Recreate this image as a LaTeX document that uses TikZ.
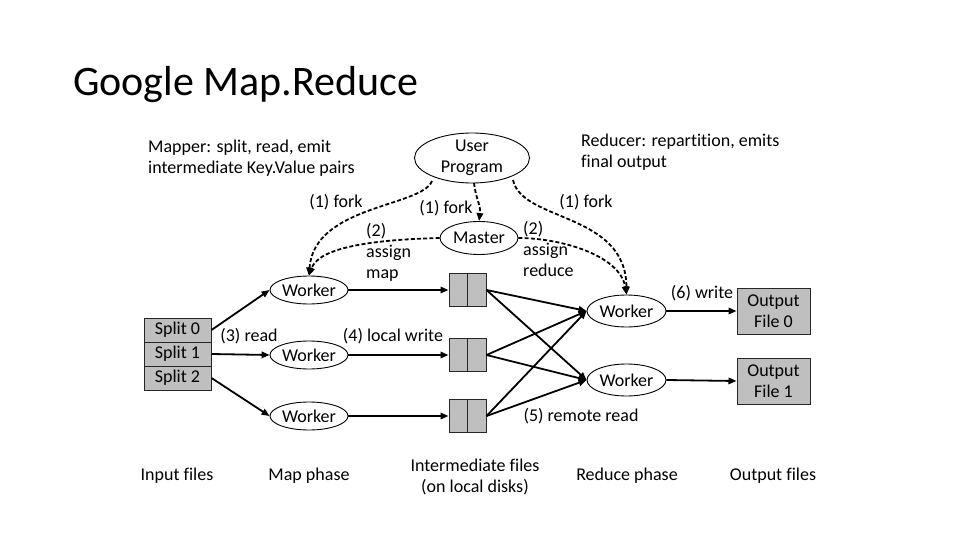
\documentclass[tikz,border=0pt]{standalone}
\usepackage{fontspec}
\setmainfont{Carlito}[Ligatures={NoCommon}]
\usetikzlibrary{shapes.geometric,arrows.meta}
\definecolor{boxgray}{HTML}{BFBFBF}
\begin{document}
\begin{tikzpicture}[x=1pt,y=-1pt,
  lbl/.style={font=\fontsize{18}{21}\selectfont, inner sep=0pt},
  ell/.style={ellipse, draw, line width=0.9pt, inner sep=0pt},
  wk/.style={ell, minimum width=78pt, minimum height=28pt},
  rwk/.style={ell, minimum width=79pt, minimum height=32pt},
  filebox/.style={rectangle, draw=black!85, line width=1pt, fill=boxgray, inner sep=0pt},
  split/.style={filebox, minimum width=67pt, minimum height=24pt, font=\fontsize{18}{21}\selectfont},
  ibox/.style={filebox, minimum width=37pt, minimum height=33pt},
  obox/.style={filebox, minimum width=73pt, minimum height=46pt, align=center, font=\fontsize{18}{21}\selectfont},
  arr/.style={line width=1.8pt, -{Triangle[length=8pt,width=6.5pt]}},
  darr/.style={arr, dash pattern=on 4pt off 2.2pt}
]
\useasboundingbox (0,0) rectangle (960,540);

% title
\node[anchor=base west, inner sep=0pt, font=\fontsize{42}{50}\selectfont] (title) at (73,96) {Google Map.Reduce};

% side notes
\node[lbl, anchor=west, align=left] (mapnote) at (148,158.5) {Mapper: split, read, emit\\intermediate Key.Value pairs};
\node[lbl, anchor=west, align=left] (rednote) at (581,152.5) {Reducer: repartition, emits\\final output};

% user program and master
\node[ell, minimum width=115pt, minimum height=50pt] (user) at (472,158) {};
\node[lbl, align=center] (usertxt) at (user) {User\\Program};
\node[ell, minimum width=78pt, minimum height=33pt] (master) at (479,238) {};
\node[lbl] (mastertxt) at (master) {Master};

% input splits
\node[split] (s0) at (177.5,330) {Split 0};
\node[split] (s1) at (177.5,354) {Split 1};
\node[split] (s2) at (177.5,378) {Split 2};

% map workers
\node[wk] (mw1) at (309,290) {};
\node[lbl] (mw1t) at (mw1) {Worker};
\node[wk] (mw2) at (309,355) {};
\node[lbl] (mw2t) at (mw2) {Worker};
\node[wk] (mw3) at (309,416) {};
\node[lbl] (mw3t) at (mw3) {Worker};

% intermediate files
\node[ibox] (i1) at (467.5,290) {};
\node[ibox] (i2) at (467.5,355) {};
\node[ibox] (i3) at (467.5,416) {};
\foreach \b in {i1,i2,i3} \draw[line width=1pt, black!85] (\b.north) -- (\b.south);

% reduce workers
\node[rwk] (rw1) at (626.5,311) {};
\node[lbl] (rw1t) at (rw1) {Worker};
\node[rwk] (rw2) at (626.5,380) {};
\node[lbl] (rw2t) at (rw2) {Worker};

% output files
\node[obox] (o0) at (773.5,311) {Output\\File 0};
\node[obox] (o1) at (773.5,381) {Output\\File 1};

% solid arrows
\draw[arr] (s0.east) -- (mw1.west);
\draw[arr] (s1.east) -- (mw2.west);
\draw[arr] (s2.east) -- (mw3.west);
\draw[arr] (mw1.east) -- (i1.west);
\draw[arr] (mw2.east) -- (i2.west);
\draw[arr] (mw3.east) -- (i3.west);
\foreach \b in {i1,i2,i3}{
  \draw[arr] (\b.east) -- (rw1.west);
  \draw[arr] (\b.east) -- (rw2.west);
}
\draw[arr] (rw1.east) -- (o0.west);
\draw[arr] (rw2.east) -- (o1.west);

% dashed control arrows
\coordinate (uL) at (432,181);
\coordinate (uM) at (474,183);
\coordinate (uR) at (513,180);
\draw[darr] (uL) .. controls (422,207) and (314,205) .. (mw1.north);
\draw[darr] (master.west) .. controls (360,240) and (318,250) .. (mw1.north);
\draw[darr] (uM) .. controls (476,200) and (481,205) .. (master.north);
\draw[darr] (uR) .. controls (522,222) and (626,212) .. (rw1.north);
\draw[darr] (master.east) .. controls (560,238) and (620,255) .. (rw1.north);

% labels
\node[lbl] (fork1) at (336,202) {(1) fork};
\node[lbl] (fork2) at (446,208) {(1) fork};
\node[lbl] (fork3) at (586,202) {(1) fork};
\node[lbl, anchor=north west, align=left] (assignmap) at (366,223) {(2)\\assign\\map};
\node[lbl, anchor=north west, align=left] (assignred) at (523,221) {(2)\\assign\\reduce};
\node[lbl] (read) at (249,336) {(3) read};
\node[lbl] (lwrite) at (393,336) {(4) local write};
\node[lbl] (rread) at (581,416) {(5) remote read};
\node[lbl] (write) at (702,293) {(6) write};

% bottom captions
\node[lbl] (cin) at (177,476) {Input files};
\node[lbl] (cmap) at (309,476) {Map phase};
\node[lbl, align=center] (cint) at (475,476.5) {Intermediate files\\(on local disks)};
\node[lbl] (cred) at (627,476) {Reduce phase};
\node[lbl] (cout) at (773,476) {Output files};
\end{tikzpicture}
\end{document}
